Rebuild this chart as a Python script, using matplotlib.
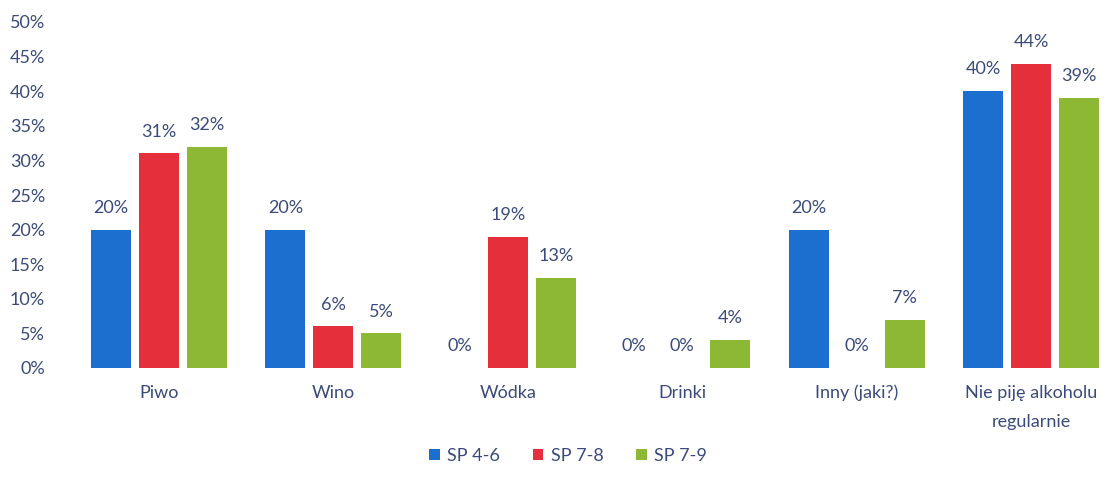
import numpy as np
import matplotlib.pyplot as plt
from matplotlib.ticker import PercentFormatter

categories = ["Piwo", "Wino", "Wódka", "Drinki", "Inny (jaki?)", "Nie piję alkoholu\nregularnie"]
series_names = ["SP 4-6", "SP 7-8", "SP 7-9"]
sp_4_6 = [20, 20, 0, 0, 20, 40]
sp_7_8 = [31, 6, 19, 0, 0, 44]
sp_7_9 = [32, 5, 13, 4, 7, 39]
colors = ["#1b6fcf", "#e5303c", "#8cb834"]
text_color = "#3a4a7c"

plt.rcParams["font.family"] = ["Lato", "DejaVu Sans"]

fig = plt.figure(figsize=(11.15, 4.91), dpi=100)
ax = fig.add_axes([50 / 1115, 123 / 491, 1060 / 1115, 346 / 491])

x = np.arange(len(categories))
step = 0.275
width = 0.23
for i, (name, vals) in enumerate(zip(series_names, [sp_4_6, sp_7_8, sp_7_9])):
    pos = x + (i - 1) * step
    ax.bar(pos, vals, width=width, color=colors[i], label=name)
    for p, v in zip(pos, vals):
        ax.annotate(f"{v}%", (p, v), xytext=(0, 10), textcoords="offset points",
                    ha="center", va="bottom", fontsize=13, color=text_color)

ax.set_xlim(-0.625, 5.453)
ax.set_ylim(0, 50)
ax.set_yticks(range(0, 51, 5))
ax.yaxis.set_major_formatter(PercentFormatter(decimals=0))
ax.set_xticks(x)
ax.set_xticklabels(categories, linespacing=2.0)
ax.tick_params(axis="both", length=0, labelsize=13, colors=text_color)
ax.tick_params(axis="x", pad=12)
for s in ax.spines.values():
    s.set_visible(False)

leg = fig.legend(loc="center", bbox_to_anchor=(568 / 1115, 1 - 456 / 491), ncol=3,
                 frameon=False, fontsize=13, handlelength=0.6, handleheight=0.6,
                 handletextpad=0.4, columnspacing=1.8)
for t in leg.get_texts():
    t.set_color(text_color)

fig.savefig("out.png", dpi=100)
